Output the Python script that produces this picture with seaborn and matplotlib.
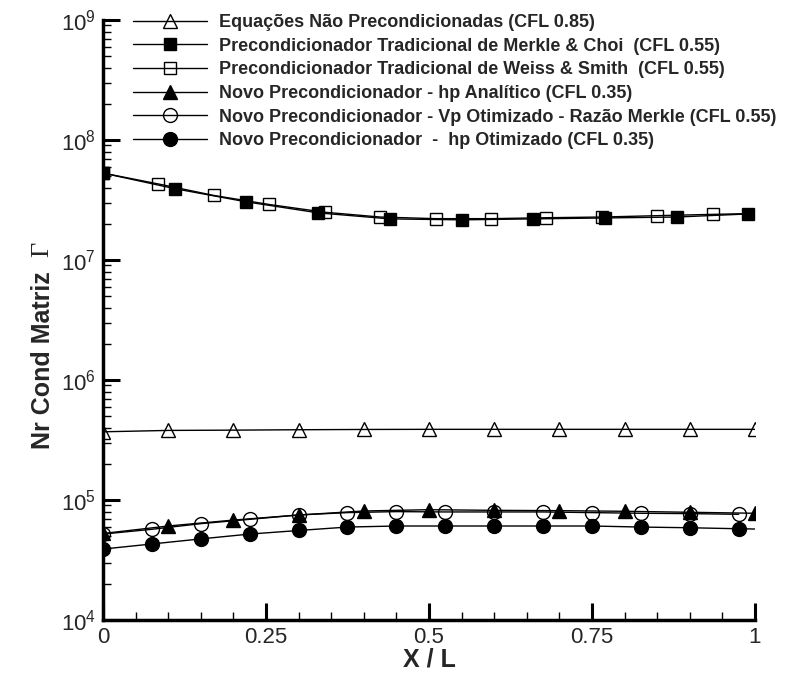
import matplotlib
matplotlib.use("Agg")
import matplotlib.pyplot as plt
import seaborn as sns
import numpy as np
import pandas as pd
from matplotlib.ticker import LogLocator, MultipleLocator, FixedLocator, FuncFormatter, LogFormatterMathtext, NullFormatter

# ---------------- data ----------------
x_nao = [0.0, 0.1, 0.2, 0.3, 0.4, 0.5, 0.6, 0.7, 0.8, 0.9, 1.0]
y_nao = [3.7e5, 3.8e5, 3.82e5, 3.85e5, 3.87e5, 3.88e5, 3.88e5, 3.88e5, 3.88e5, 3.88e5, 3.88e5]

x_merkle = [0.0, 0.11, 0.22, 0.33, 0.44, 0.55, 0.66, 0.77, 0.88, 0.99]
y_merkle = [5.3e7, 3.93e7, 3.05e7, 2.47e7, 2.2e7, 2.16e7, 2.2e7, 2.24e7, 2.28e7, 2.42e7]

x_weiss = [0.0, 0.085, 0.17, 0.255, 0.34, 0.425, 0.51, 0.595, 0.68, 0.765, 0.85, 0.935, 1.0]
y_weiss = [5.3e7, 4.3e7, 3.45e7, 2.9e7, 2.5e7, 2.28e7, 2.21e7, 2.21e7, 2.25e7, 2.28e7, 2.34e7, 2.4e7, 2.44e7]

x_hp_an = [0.0, 0.1, 0.2, 0.3, 0.4, 0.5, 0.6, 0.7, 0.8, 0.9, 1.0]
y_hp_an = [5.26e4, 6.07e4, 6.8e4, 7.5e4, 8.1e4, 8.3e4, 8.2e4, 8.15e4, 8.05e4, 7.9e4, 7.75e4]

x_vp = [0.0, 0.075, 0.15, 0.225, 0.3, 0.375, 0.45, 0.525, 0.6, 0.675, 0.75, 0.825, 0.9, 0.975]
y_vp = [5.2e4, 5.7e4, 6.35e4, 6.9e4, 7.5e4, 7.85e4, 8.0e4, 7.95e4, 7.95e4, 7.95e4, 7.85e4, 7.75e4, 7.7e4, 7.6e4]

x_hp_ot = [0.0, 0.075, 0.15, 0.225, 0.3, 0.375, 0.45, 0.525, 0.6, 0.675, 0.75, 0.825, 0.9, 0.975, 1.0]
y_hp_ot = [3.9e4, 4.3e4, 4.74e4, 5.2e4, 5.57e4, 5.95e4, 6.07e4, 6.07e4, 6.07e4, 6.07e4, 6.07e4, 5.95e4, 5.87e4, 5.76e4, 5.73e4]

labels = [
    "Equações Não Precondicionadas (CFL 0.85)",
    "Precondicionador Tradicional de Merkle & Choi  (CFL 0.55)",
    "Precondicionador Tradicional de Weiss & Smith  (CFL 0.55)",
    "Novo Precondicionador - hp Analítico (CFL 0.35)",
    "Novo Precondicionador - Vp Otimizado - Razão Merkle (CFL 0.55)",
    "Novo Precondicionador  -  hp Otimizado (CFL 0.35)",
]
x_ticks = [0, 0.25, 0.5, 0.75, 1]
x_tick_labels = ["0", "0.25", "0.5", "0.75", "1"]

# ---------------- style ----------------
sns.set_theme(style="white")
plt.rcParams["font.family"] = ["Liberation Sans", "DejaVu Sans"]
plt.rcParams["mathtext.fontset"] = "custom"
plt.rcParams["mathtext.rm"] = "Liberation Sans"
plt.rcParams["mathtext.it"] = "Liberation Sans:italic"
plt.rcParams["mathtext.bf"] = "Liberation Sans:bold"

fig = plt.figure(figsize=(7.88, 6.77), dpi=100)
ax = fig.add_axes([0.1307, 0.0842, 0.8274, 0.8863])

series = [
    (x_nao, y_nao, "^", "none", 10, None),
    (x_merkle, y_merkle, "s", "black", 9, None),
    (x_weiss, y_weiss, "s", "none", 9, list(range(len(x_weiss) - 1))),
    (x_hp_an, y_hp_an, "^", "black", 10, None),
    (x_vp, y_vp, "o", "none", 10, None),
    (x_hp_ot, y_hp_ot, "o", "black", 10, list(range(len(x_hp_ot) - 1))),
]

for (xs, ys, mk, fc, ms, mev), lab in zip(series, labels):
    df = pd.DataFrame({"x": xs, "y": ys})
    kw = {}
    if mev is not None:
        kw["markevery"] = mev
    sns.lineplot(data=df, x="x", y="y", ax=ax, sort=False, estimator=None,
                 color="black", linewidth=1.0, marker=mk, markersize=ms,
                 markerfacecolor=fc, markeredgecolor="black", markeredgewidth=1.0,
                 label=lab, **kw)

ax.set_yscale("log")
ax.set_xlim(0, 1)
ax.set_ylim(1e4, 1e9)

ax.xaxis.set_major_locator(FixedLocator(x_ticks))
ax.xaxis.set_major_formatter(FuncFormatter(lambda v, p: x_tick_labels[x_ticks.index(v)] if v in x_ticks else ""))
ax.xaxis.set_minor_locator(MultipleLocator(0.05))
ax.yaxis.set_major_locator(LogLocator(base=10, numticks=10))
ax.yaxis.set_major_formatter(LogFormatterMathtext())
ax.yaxis.set_minor_locator(LogLocator(base=10, subs=np.arange(2, 10), numticks=20))
ax.yaxis.set_minor_formatter(NullFormatter())

ax.tick_params(which="major", direction="in", length=12, width=2.2, color="black",
               labelsize=16, pad=5, left=True, bottom=True)
ax.tick_params(which="minor", direction="in", length=6, width=1, color="black",
               left=True, bottom=True)

for s in ["top", "right"]:
    ax.spines[s].set_visible(False)
for s in ["left", "bottom"]:
    ax.spines[s].set_linewidth(2.5)
    ax.spines[s].set_color("black")

ax.set_xlabel("X / L", fontsize=18, fontweight="bold", labelpad=0)
ax.set_ylabel("")
fig.text(0.054, 0.468, "Nr Cond Matriz", rotation=90, fontsize=18, fontweight="bold",
         ha="center", va="center")
fig.text(0.054, 0.632, "Γ", rotation=90, fontsize=19, family=["Liberation Serif", "DejaVu Serif"],
         ha="center", va="center")

leg = ax.legend(loc="upper left", bbox_to_anchor=(0.035, 1.022), frameon=False,
                prop={"weight": "bold", "size": 13}, handlelength=4.1,
                handletextpad=0.65, labelspacing=0.37, borderaxespad=0)

fig.savefig("out.png", dpi=100)
